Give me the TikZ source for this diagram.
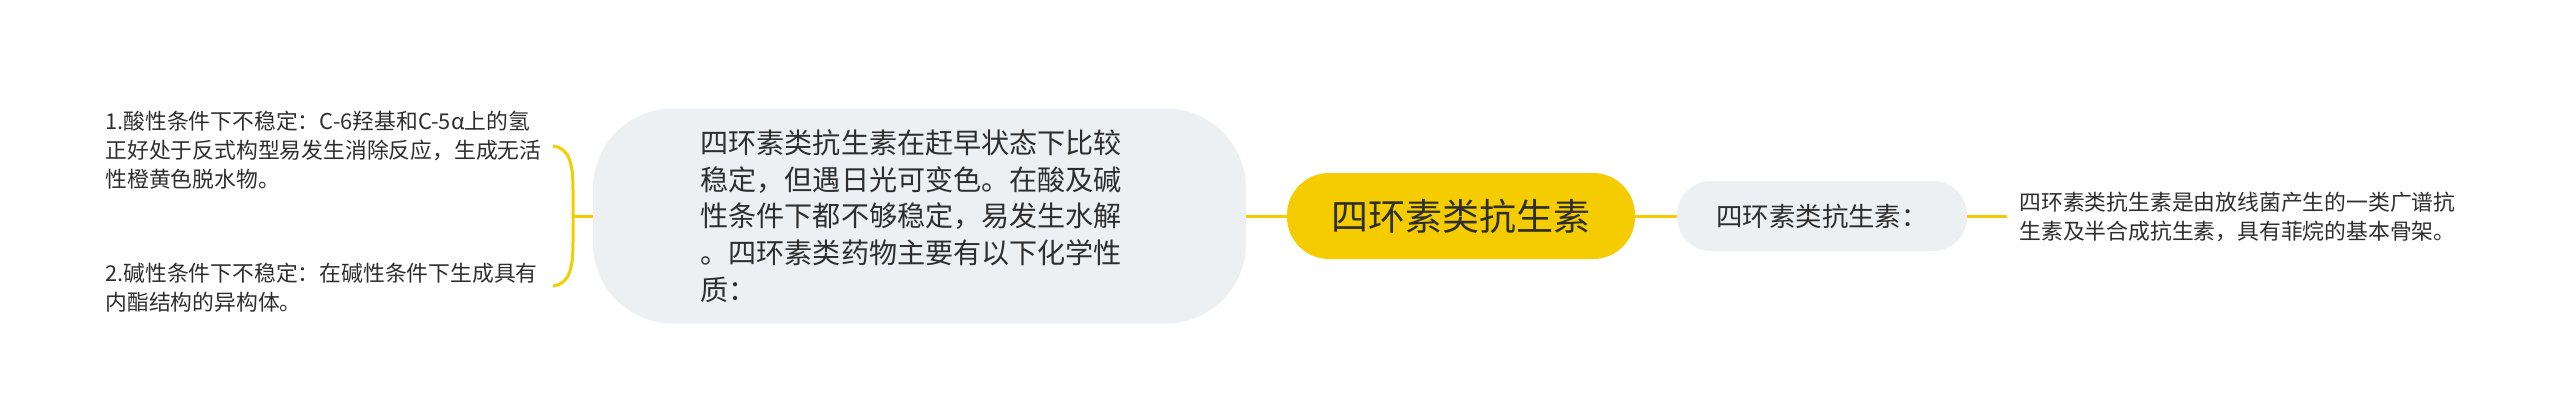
\documentclass[tikz,border=0pt]{standalone}
\usepackage{fontspec}
\setmainfont{Noto Sans CJK SC}
\definecolor{myyellow}{HTML}{F5CC00}
\definecolor{mygray}{HTML}{EDF0F3}
\definecolor{mytext}{HTML}{2E2E2E}
\begin{document}
\begin{tikzpicture}[x=0.5pt,y=-0.5pt,
  link/.style={draw=myyellow,line width=1.5pt},
  pill/.style={fill=mygray,draw=none,rounded corners=#1,inner sep=0pt,text=mytext},
  leaf/.style={inner sep=0pt,align=left,text=mytext,font=\fontsize{10.9pt}{14.5pt}\selectfont}
]
\useasboundingbox (0,0) rectangle (2560,419);

\node[pill=40pt, minimum width=326.5pt, minimum height=107.5pt, text width=219pt, align=left,
      font=\fontsize{14.05pt}{18.4pt}\selectfont] (mid) at (919.5,216)
  {四环素类抗生素在赶早状态下比较\\稳定，但遇日光可变色。在酸及碱\\性条件下都不够稳定，易发生水解\\。四环素类药物主要有以下化学性\\质：};

\node[pill=21pt, fill=myyellow, minimum width=174pt, minimum height=43pt,
      font=\fontsize{18.5pt}{22pt}\selectfont] (root) at (1461,216) {四环素类抗生素};

\node[pill=17pt, minimum width=145pt, minimum height=35pt,
      font=\fontsize{13.2pt}{16pt}\selectfont] (sec) at (1822,216) {四环素类抗生素：};

\node[leaf, anchor=west] (r1) at (2019,217)
  {四环素类抗生素是由放线菌产生的一类广谱抗\\生素及半合成抗生素，具有菲烷的基本骨架。};

\node[leaf, anchor=west] (l1) at (105,150)
  {1.酸性条件下不稳定：C-6羟基和C-5α上的氢\\正好处于反式构型易发生消除反应，生成无活\\性橙黄色脱水物。};
\node[leaf, anchor=west] (l2) at (105,287.5)
  {2.碱性条件下不稳定：在碱性条件下生成具有\\内酯结构的异构体。};

\draw[link] (mid.east) -- (root.west);
\draw[link] (root.east) -- (sec.west);
\draw[link, shorten >=6pt] (sec.east) -- (sec.east -| r1.west);

\coordinate (bm) at ([xshift=-10pt]mid.west);
\coordinate (bt) at (553,146);
\coordinate (bb) at (553,286);
\draw[link] (mid.west) -- (bm);
\draw[link] (bt) .. controls (570,148) and (573,165) .. (573,190) -- (573,242)
  .. controls (573,267) and (570,284) .. (bb);
\end{tikzpicture}
\end{document}
